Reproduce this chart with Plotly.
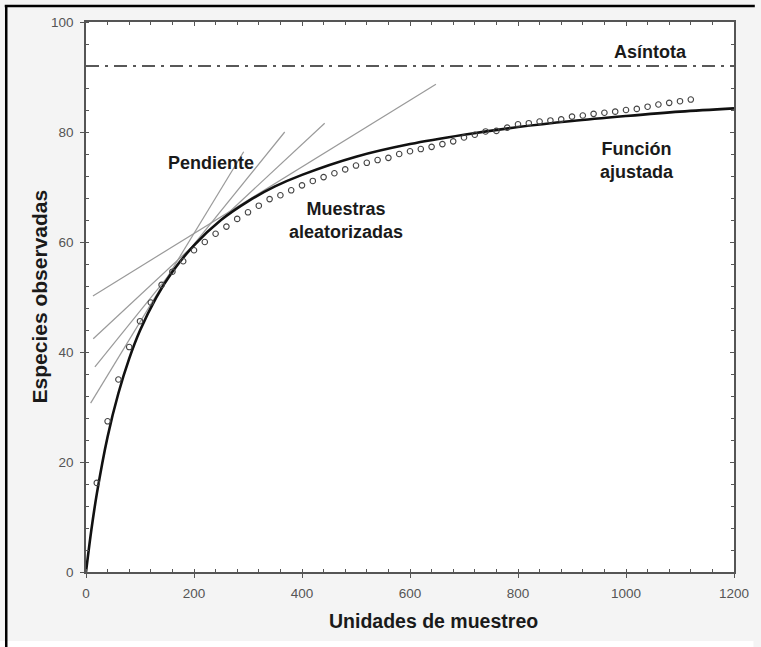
import plotly.graph_objects as go

# Rarefaction samples (randomised accumulation)
sample_units = [20, 40, 60, 80, 100, 120, 140, 160, 180, 200, 220, 240, 260, 280,
                300, 320, 340, 360, 380, 400, 420, 440, 460, 480, 500, 520, 540, 560,
                580, 600, 620, 640, 660, 680, 700, 720, 740, 760, 780, 800, 820, 840,
                860, 880, 900, 920, 940, 960, 980, 1000, 1020, 1040, 1060, 1080, 1100, 1120]
sample_species = [16.2, 27.4, 35.0, 40.9, 45.6, 49.0, 52.2, 54.6, 56.5, 58.5, 60.0, 61.5,
                  62.8, 64.2, 65.4, 66.6, 67.8, 68.5, 69.4, 70.3, 71.1, 71.8, 72.5, 73.2,
                  73.9, 74.4, 74.9, 75.3, 76.0, 76.5, 76.9, 77.3, 77.8, 78.3, 79.0, 79.5,
                  80.1, 80.2, 80.8, 81.4, 81.6, 81.9, 82.1, 82.3, 82.8, 83.0, 83.3, 83.5,
                  83.7, 84.0, 84.2, 84.6, 85.0, 85.3, 85.6, 85.9]

# Fitted accumulation curve
fit_units = [0, 10, 20, 40, 60, 80, 100, 130, 160, 200, 250, 300, 350, 400, 500,
             600, 700, 800, 900, 1000, 1100, 1200]
fit_species = [0.0, 7.7, 14.2, 24.6, 32.5, 38.8, 43.9, 49.9, 54.6, 59.4, 64.0, 67.4,
               70.1, 72.2, 75.5, 77.8, 79.5, 80.9, 82.0, 82.9, 83.7, 84.3]

# Slope (tangent) segments: start and end points
slope_x0 = [12.8, 13.4, 16.5, 8.6]
slope_y0 = [50.2, 42.4, 37.3, 30.7]
slope_x1 = [648, 442, 368, 292]
slope_y1 = [88.7, 81.6, 80.0, 76.4]

asymptote = 92
x_range = [0, 1200]
y_range = [0, 100]

FONT = "Liberation Sans, Arial, sans-serif"

fig = go.Figure()

for x0, y0, x1, y1 in zip(slope_x0, slope_y0, slope_x1, slope_y1):
    fig.add_trace(go.Scatter(x=[x0, x1], y=[y0, y1], mode="lines",
                             line=dict(color="#9a9a9a", width=1.2),
                             hoverinfo="skip", showlegend=False))

fig.add_trace(go.Scatter(x=x_range, y=[asymptote, asymptote], mode="lines",
                         line=dict(color="#222", width=1.6, dash="13px,6px,3px,6px"),
                         showlegend=False))

fig.add_trace(go.Scatter(x=fit_units, y=fit_species, mode="lines",
                         line=dict(color="#111", width=2.6, shape="spline", smoothing=1.0),
                         showlegend=False))

fig.add_trace(go.Scatter(x=sample_units, y=sample_species, mode="markers",
                         marker=dict(symbol="circle-open", size=5.5,
                                     color="#444", line=dict(width=1.1, color="#444")),
                         showlegend=False))

# secondary axes carry the inward ticks on the top and right edges
fig.add_trace(go.Scatter(x=[0], y=[0], xaxis="x2", yaxis="y2", mode="markers",
                         marker=dict(opacity=0), hoverinfo="skip", showlegend=False))

axis_line = "#555"
tickfont = dict(family=FONT, size=13.5, color="#555")

fig.update_layout(
    width=761, height=647,
    margin=dict(l=86, r=21, t=22, b=75),
    paper_bgcolor="#f4f4f4",
    plot_bgcolor="white",
    xaxis=dict(range=x_range, dtick=200, tick0=0, showgrid=False, zeroline=False,
               showline=True, linecolor=axis_line, linewidth=1.6,
               ticks="outside", ticklen=4, tickcolor=axis_line, tickwidth=1.2,
               minor=dict(dtick=40, ticks="inside", ticklen=3, tickcolor=axis_line, tickwidth=1),
               tickfont=tickfont, ticklabelstandoff=4),
    yaxis=dict(range=y_range, dtick=20, tick0=0, showgrid=False, zeroline=False,
               showline=True, linecolor=axis_line, linewidth=1.6,
               ticks="outside", ticklen=4, tickcolor=axis_line, tickwidth=1.2,
               minor=dict(dtick=4, ticks="inside", ticklen=3, tickcolor=axis_line, tickwidth=1),
               tickfont=tickfont, ticklabelstandoff=4),
    xaxis2=dict(range=x_range, overlaying="x", side="top", dtick=200, tick0=0,
                showgrid=False, zeroline=False, showline=True, linecolor=axis_line,
                linewidth=1.6, ticks="inside", ticklen=4, tickcolor=axis_line,
                minor=dict(dtick=40, ticks="inside", ticklen=3, tickcolor=axis_line),
                showticklabels=False),
    yaxis2=dict(range=y_range, overlaying="y", side="right", dtick=20, tick0=0,
                showgrid=False, zeroline=False, showline=True, linecolor=axis_line,
                linewidth=1.6, ticks="inside", ticklen=4, tickcolor=axis_line,
                minor=dict(dtick=4, ticks="inside", ticklen=3, tickcolor=axis_line),
                showticklabels=False),
)

label_font = dict(family=FONT, size=18, color="#1a1a1a", weight="bold")
labels = [
    ("Asíntota", 1046, 94.6),
    ("Pendiente", 232, 74.3),
    ("Muestras<br>aleatorizadas", 482, 63.9),
    ("Función<br>ajustada", 1021, 74.9),
]
for text, x, y in labels:
    fig.add_annotation(x=x, y=y, text=text, showarrow=False, xanchor="center",
                       yanchor="middle", align="center", font=label_font)

# axis titles
fig.add_annotation(xref="paper", yref="paper", x=(437 - 86) / 654, y=(572 - 621) / 550,
                   text="Unidades de muestreo", showarrow=False, xanchor="center",
                   yanchor="middle", font=dict(family=FONT, size=19.5, color="#1a1a1a", weight="bold"))
fig.add_annotation(xref="paper", yref="paper", x=(39 - 86) / 654, y=(572 - 296) / 550,
                   text="Especies observadas", showarrow=False, textangle=-90,
                   xanchor="center", yanchor="middle",
                   font=dict(family=FONT, size=21, color="#1a1a1a", weight="bold"))

# outer frame: white strip at the bottom, black rules along the top and left edges
fig.add_shape(type="rect", xref="paper", yref="paper",
              x0=-0.2, x1=1.03, y0=(572 - 641) / 550, y1=(572 - 652) / 550,
              fillcolor="white", line=dict(width=0))
fig.add_shape(type="line", xref="paper", yref="paper",
              x0=(4 - 86) / 654, x1=(761 - 86) / 654, y0=(572 - 6) / 550, y1=(572 - 6) / 550,
              line=dict(color="black", width=2.5))
fig.add_shape(type="line", xref="paper", yref="paper",
              x0=(5.5 - 86) / 654, x1=(5.5 - 86) / 654, y0=(572 - 5) / 550, y1=(572 - 652) / 550,
              line=dict(color="black", width=2.5))

fig.write_html("out.html")
